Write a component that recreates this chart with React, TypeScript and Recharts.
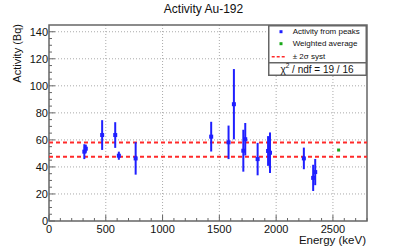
import {
  ComposedChart,
  Scatter,
  ErrorBar,
  XAxis,
  YAxis,
  CartesianGrid,
  ReferenceLine,
  ReferenceArea,
} from 'recharts';

// gamma line energies (keV) and the activity derived from each peak
const energies = [311, 324, 468, 583, 615, 763, 1428, 1581, 1628, 1711, 1728, 1837, 1929, 1946, 2244, 2326, 2344];
const activities = [51.3, 53.5, 63.6, 63.6, 48.3, 46.3, 62.4, 58.2, 86.4, 52, 60.5, 45.8, 51.8, 50.5, 46.3, 31.9, 36.2];
const activityErrors = [5.5, 3, 11, 9.5, 3, 12, 11, 12.4, 26, 15.5, 12, 12, 11, 15, 8, 9.7, 9.7];

const averageEnergy = [2550];
const averageActivity = [52.5];
const systBand = [47.6, 58.0];

const xMajorTicks = [0, 500, 1000, 1500, 2000, 2500];
const yMajorTicks = [0, 20, 40, 60, 80, 100, 120, 140];
const xGrid = [500, 1000, 1500, 2000, 2500];
const yGrid = [20, 40, 60, 80, 100, 120, 140];
const xMax = 2800;
const yMax = 145;

const xTicks = Array.from({ length: xMax / 100 + 1 }, (_, i) => i * 100);
const yTicks = Array.from({ length: 29 }, (_, i) => i * 5);

const peaks = energies.map((e, i) => ({ e, a: activities[i], err: activityErrors[i] }));
const average = averageEnergy.map((e, i) => ({ e, a: averageActivity[i] }));

const BLUE = '#1f1fff';
const RED = '#ff2a2a';
const GREEN = '#19a819';
const FRAME = '#666';
const FONT = '"Liberation Sans", Arial, sans-serif';

// eslint-disable-next-line @typescript-eslint/no-explicit-any
function XTick({ x, y, payload }: any) {
  const v = payload.value as number;
  const major = xMajorTicks.includes(v);
  return (
    <g>
      <line x1={x} x2={x} y1={y} y2={y - (major ? 6 : 3)} stroke={FRAME} strokeWidth={1} />
      {major && (
        <text x={x} y={y + 7.5} textAnchor="middle" dominantBaseline="central" fontSize={11} fill="#111" fontFamily={FONT}>
          {v}
        </text>
      )}
    </g>
  );
}

// eslint-disable-next-line @typescript-eslint/no-explicit-any
function YTick({ x, y, payload }: any) {
  const v = payload.value as number;
  const major = yMajorTicks.includes(v);
  return (
    <g>
      <line x1={x} x2={x + (major ? 6 : 3)} y1={y} y2={y} stroke={FRAME} strokeWidth={1} />
      {major && (
        <text x={x - 1} y={y} textAnchor="end" dominantBaseline="central" fontSize={11} fill="#111" fontFamily={FONT}>
          {v}
        </text>
      )}
    </g>
  );
}

export default function App() {
  return (
    <div style={{ position: 'absolute', left: 0, top: 0, width: 407, height: 251, background: '#fff', fontFamily: FONT }}>
      <ComposedChart width={407} height={251} margin={{ top: 25, right: 40, bottom: 0, left: 0 }}>
        <CartesianGrid
          stroke="#aaa"
          strokeDasharray="1 2"
          horizontalValues={yGrid}
          verticalValues={xGrid}
        />
        <XAxis
          dataKey="e"
          type="number"
          domain={[0, xMax]}
          ticks={xTicks}
          interval={0}
          tickSize={0}
          tickMargin={0}
          axisLine={false}
          tickLine={false}
          tick={XTick}
          height={30}
          allowDataOverflow
        />
        <YAxis
          dataKey="a"
          type="number"
          domain={[0, yMax]}
          ticks={yTicks}
          interval={0}
          tickSize={0}
          tickMargin={0}
          axisLine={false}
          tickLine={false}
          tick={YTick}
          width={49}
          allowDataOverflow
        />
        {systBand.map((v) => (
          <ReferenceLine key={v} y={v} stroke={RED} strokeWidth={2} strokeDasharray="4 3" />
        ))}
        <Scatter
          data={peaks}
          fill={BLUE}
          isAnimationActive={false}
          // eslint-disable-next-line @typescript-eslint/no-explicit-any
          shape={(p: any) => <rect x={p.cx - 2} y={p.cy - 2} width={4} height={4} fill={BLUE} />}
        >
          <ErrorBar dataKey="err" direction="y" width={0} stroke={BLUE} strokeWidth={2} isAnimationActive={false} />
        </Scatter>
        <Scatter
          data={average}
          fill={GREEN}
          isAnimationActive={false}
          // eslint-disable-next-line @typescript-eslint/no-explicit-any
          shape={(p: any) => <rect x={p.cx - 1.5} y={p.cy - 1.5} width={3} height={3} fill={GREEN} />}
        />
        <ReferenceArea x1={0} x2={xMax} y1={0} y2={yMax} fill="none" stroke={FRAME} strokeWidth={1.5} />
      </ComposedChart>

      <div style={{ position: 'absolute', left: 0, width: 407, top: 2, textAlign: 'center', fontSize: 12, color: '#111' }}>
        Activity Au-192
      </div>
      <div
        style={{
          position: 'absolute',
          left: 17,
          top: 24,
          fontSize: 11,
          color: '#111',
          whiteSpace: 'nowrap',
          transform: 'translate(-100%, -50%) rotate(-90deg)',
          transformOrigin: '100% 50%',
        }}
      >
        Activity (Bq)
      </div>
      <div
        style={{
          position: 'absolute',
          right: 407 - 366,
          top: 234,
          fontSize: 11.5,
          lineHeight: '12px',
          color: '#111',
          whiteSpace: 'nowrap',
        }}
      >
        Energy (keV)
      </div>

      <svg style={{ position: 'absolute', left: 268, top: 25 }} width={99} height={51}>
        <rect x={0.75} y={0.75} width={97.5} height={49.5} fill="#fff" stroke={FRAME} strokeWidth={1.5} />
        <line x1={0} x2={99} y1={37.7} y2={37.7} stroke={FRAME} strokeWidth={1.5} />
        <rect x={11.5} y={5.2} width={3} height={3} fill={BLUE} />
        <text x={24.7} y={6.7} dominantBaseline="central" fontSize={8} fill="#111" fontFamily={FONT}>
          Activity from peaks
        </text>
        <rect x={11.5} y={17.2} width={3} height={3} fill={GREEN} />
        <text x={24.7} y={18.7} dominantBaseline="central" fontSize={8} fill="#111" fontFamily={FONT}>
          Weighted average
        </text>
        <line x1={3.7} x2={18.7} y1={31.7} y2={31.7} stroke={RED} strokeWidth={1.5} strokeDasharray="3 2" />
        <text x={24.7} y={31.7} dominantBaseline="central" fontSize={8} fill="#111" fontFamily={FONT}>
          ± 2σ syst
        </text>
        <text x={49} y={44.3} textAnchor="middle" dominantBaseline="central" fontSize={10} fill="#111" fontFamily={FONT}>
          χ<tspan dy={-4} fontSize={6.5}>2</tspan>
          <tspan dy={4}> / ndf = 19 / 16</tspan>
        </text>
      </svg>
    </div>
  );
}
